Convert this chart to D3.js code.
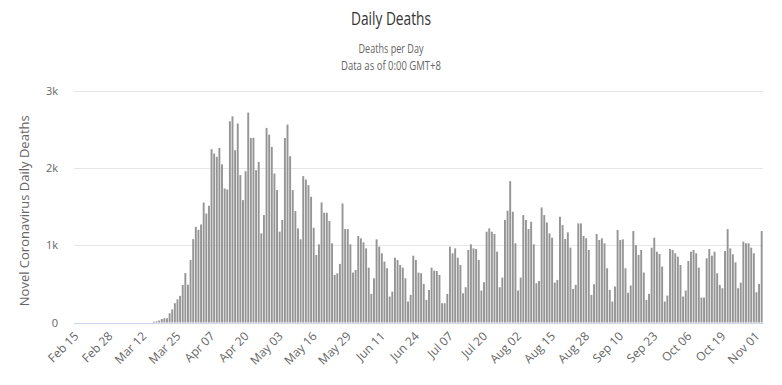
<!DOCTYPE html>
<html>
<head>
<meta charset="utf-8">
<script src="https://cdn.jsdelivr.net/npm/d3@7"></script>
<style>
  body { margin: 0; background: #fff; }
  svg { display: block; font-family: "Open Sans", sans-serif; }
</style>
</head>
<body>
<svg id="chart"></svg>
<script>
var width = 782;
var height = 385;

// daily deaths, one per day starting Feb 15
var startDate = '2020-02-15';
var deaths = [
  0, 0, 0, 0, 0, 0, 0, 0, 0, 0, 0, 0, 0, 0,
  0, 0, 0, 0, 0, 0, 0, 0, 0, 0, 0, 0, 0, 0, 0, 0,
  10, 15, 25, 45, 55, 55, 120, 170, 250, 300, 345, 487, 640, 490, 810,
  1080, 1240, 1200, 1270, 1555, 1413, 1513, 2245, 2190, 2147, 2263, 2050, 1737, 1724,
  2608, 2672, 2233, 2578, 1910, 1586, 1961, 2720, 2392, 2392, 1974, 2082, 1155, 1392,
  2522, 2435, 2276, 1931, 1716, 1177, 1328, 2392, 2565, 2155, 1716, 1444, 1220, 1078,
  1897, 1853, 1780, 1629, 1228, 875, 1013, 1556, 1422, 1422, 1315, 1026, 616, 638,
  759, 1543, 1211, 1211, 1013, 647, 681, 1121, 1091, 1039, 961, 711, 371, 573,
  1078, 983, 897, 789, 703, 336, 401, 840, 810, 746, 711, 573, 272, 358,
  866, 810, 647, 638, 500, 293, 422, 711, 672, 668, 616, 250, 250, 371,
  983, 897, 961, 840, 746, 379, 457, 940, 1013, 961, 953, 810, 414, 522,
  1177, 1220, 1177, 1147, 918, 457, 582, 1328, 1448, 1832, 1435, 1026, 414, 582,
  1392, 1328, 1211, 1306, 1013, 509, 539, 1491, 1392, 1297, 1155, 1099, 517, 552,
  1371, 1263, 1082, 1168, 970, 435, 487, 1284, 1284, 1121, 1091, 940, 358, 496,
  1147, 1069, 1091, 1026, 703, 422, 272, 466, 1198, 1069, 1078, 703, 385, 480,
  1185, 1004, 875, 940, 647, 293, 371, 970, 1099, 918, 888, 724, 272, 349,
  953, 940, 897, 853, 746, 336, 414, 797, 918, 940, 897, 711, 323, 323,
  832, 953, 866, 918, 638, 487, 444, 927, 1211, 961, 884, 780, 444, 517,
  1048, 1026, 1026, 970, 897, 392, 500, 1185
];
var tickLabels = ['Feb 15', 'Feb 28', 'Mar 12', 'Mar 25', 'Apr 07', 'Apr 20', 'May 03',
  'May 16', 'May 29', 'Jun 11', 'Jun 24', 'Jul 07', 'Jul 20', 'Aug 02', 'Aug 15',
  'Aug 28', 'Sep 10', 'Sep 23', 'Oct 06', 'Oct 19', 'Nov 01'];
var yTicks = [0, 1000, 2000, 3000];

var fmt = d3.timeFormat('%b %d');
var parse = d3.timeParse('%Y-%m-%d');
var categories = deaths.map(function(d, i){
  return fmt(d3.timeDay.offset(parse(startDate), i));
});

var plotLeft = 74, plotRight = 763, plotTop = 91, plotBottom = 322.5;

var svg = d3.select('#chart')
            .attr('width', width)
            .attr('height', height);

var x = d3.scaleBand()
          .domain(categories)
          .range([plotLeft, plotRight])
          .paddingInner(0.27)
          .paddingOuter(0.135);

var y = d3.scaleLinear()
          .domain([0, 3000])
          .range([plotBottom, plotTop]);

// titles
svg.append('text')
   .attr('x', 391).attr('y', 25)
   .attr('text-anchor', 'middle')
   .attr('fill', '#333')
   .style('font-size', '19px')
   .attr('textLength', 80)
   .attr('lengthAdjust', 'spacingAndGlyphs')
   .text('Daily Deaths');

svg.append('text')
   .attr('x', 391).attr('y', 53)
   .attr('text-anchor', 'middle')
   .attr('fill', '#666')
   .style('font-size', '12.5px')
   .attr('textLength', 65)
   .attr('lengthAdjust', 'spacingAndGlyphs')
   .text('Deaths per Day');

svg.append('text')
   .attr('x', 391).attr('y', 70)
   .attr('text-anchor', 'middle')
   .attr('fill', '#666')
   .style('font-size', '12.5px')
   .attr('textLength', 100)
   .attr('lengthAdjust', 'spacingAndGlyphs')
   .text('Data as of 0:00 GMT+8');

// grid lines + y labels
svg.selectAll('line.grid')
   .data(yTicks)
   .enter()
   .append('line')
   .attr('class', 'grid')
   .attr('x1', plotLeft).attr('x2', plotRight)
   .attr('y1', function(d){ return Math.round(y(d)) + 0.5; })
   .attr('y2', function(d){ return Math.round(y(d)) + 0.5; })
   .attr('stroke', function(d){ return d === 0 ? '#ccd6eb' : '#e6e6e6'; })
   .attr('stroke-width', 1);

svg.selectAll('text.ylab')
   .data(yTicks)
   .enter()
   .append('text')
   .attr('class', 'ylab')
   .attr('x', 58)
   .attr('y', function(d){ return y(d) + 4; })
   .attr('text-anchor', 'end')
   .attr('fill', '#666')
   .style('font-size', '11px')
   .text(function(d){ return d === 0 ? '0' : (d / 1000) + 'k'; });

svg.append('text')
   .attr('transform', 'translate(29,' + ((plotTop + plotBottom) / 2 + 4) + ') rotate(-90)')
   .attr('text-anchor', 'middle')
   .attr('fill', '#666')
   .style('font-size', '13px')
   .text('Novel Coronavirus Daily Deaths');

// bars
svg.selectAll('rect.bar')
   .data(deaths)
   .enter()
   .append('rect')
   .attr('class', 'bar')
   .attr('x', function(d, i){ return x(categories[i]); })
   .attr('width', x.bandwidth())
   .attr('y', function(d){ return y(d); })
   .attr('height', function(d){ return plotBottom - y(d); })
   .attr('fill', '#959595');

// x labels
svg.selectAll('text.xlab')
   .data(tickLabels)
   .enter()
   .append('text')
   .attr('class', 'xlab')
   .attr('transform', function(d){
     var cx = x(d) + x.bandwidth() / 2;
     return 'translate(' + (cx + 4) + ',337) rotate(-45)';
   })
   .attr('text-anchor', 'end')
   .attr('fill', '#666')
   .style('font-size', '12px')
   .text(function(d){ return d; });
</script>
</body>
</html>
